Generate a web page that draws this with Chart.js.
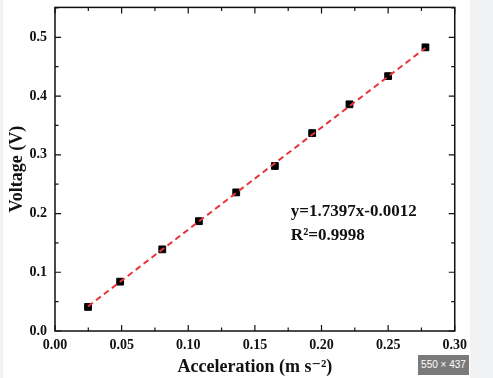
<!DOCTYPE html>
<html lang="en">
<head>
    <meta charset="UTF-8">
    <title>Voltage vs Acceleration</title>
    <style>
        html, body { margin: 0; padding: 0; background: #f1f2f4; }
        #wrap { position: absolute; left: 3px; top: 0; width: 467px; height: 378px; background: #fff; overflow: hidden; }
        #chart { position: absolute; left: 0; top: -9px; }
        #badge {
            position: absolute; left: 418px; top: 355px; width: 51px; height: 20px;
            background: #7a7a7a; color: #fff; font: 10px "Liberation Sans", Arial, sans-serif;
            line-height: 20px; text-align: center; white-space: nowrap; overflow: hidden;
        }
    </style>
    <script src="https://cdn.jsdelivr.net/npm/chart.js"></script>
</head>
<body>
    <div id="wrap"><canvas id="chart" width="470" height="387"></canvas></div>
    <div id="badge">550 × 437</div>

    <script>
        // measured points
        const accel = [0.0248, 0.0489, 0.0805, 0.108, 0.136, 0.165, 0.193, 0.221, 0.250, 0.278];
        const voltage = [0.041, 0.084, 0.139, 0.187, 0.236, 0.281, 0.337, 0.386, 0.434, 0.483];
        // fitted line ends
        const fitX = [0.0248, 0.278];
        const fitY = [0.042, 0.482];
        const xTicks = [0.00, 0.05, 0.10, 0.15, 0.20, 0.25, 0.30];
        const yTicks = [0.0, 0.1, 0.2, 0.3, 0.4, 0.5];
        const fitText = ['y=1.7397x-0.0012', 'R\u00B2=0.9998'];

        const serif = '"Liberation Serif", "DejaVu Serif", serif';

        // inward ticks on all four sides, frame, and fit equation
        const framePlugin = {
            id: 'frame',
            afterDatasetsDraw(chart) {
                const ctx = chart.ctx;
                const a = chart.chartArea;
                const xs = chart.scales.x, ys = chart.scales.y;
                ctx.save();
                ctx.strokeStyle = '#111';
                ctx.lineWidth = 1.5;
                ctx.strokeRect(a.left, a.top, a.right - a.left, a.bottom - a.top);
                ctx.lineWidth = 1.2;
                for (let v = 0; v <= 0.3001; v += 0.025) {
                    const px = xs.getPixelForValue(v);
                    const len = Math.round(v / 0.025) % 2 === 0 ? 6 : 3.5;
                    ctx.beginPath();
                    ctx.moveTo(px, a.bottom); ctx.lineTo(px, a.bottom - len);
                    ctx.moveTo(px, a.top); ctx.lineTo(px, a.top + len);
                    ctx.stroke();
                }
                for (let v = 0; v <= 0.55; v += 0.05) {
                    const py = ys.getPixelForValue(v);
                    const len = Math.round(v / 0.05) % 2 === 0 ? 6 : 3.5;
                    ctx.beginPath();
                    ctx.moveTo(a.left, py); ctx.lineTo(a.left + len, py);
                    ctx.moveTo(a.right, py); ctx.lineTo(a.right - len, py);
                    ctx.stroke();
                }
                ctx.fillStyle = '#111';
                ctx.font = 'bold 17px ' + serif;
                ctx.textBaseline = 'middle';
                const tx = xs.getPixelForValue(0.177);
                ctx.fillText(fitText[0], tx, ys.getPixelForValue(0.203));
                ctx.fillText(fitText[1], tx, ys.getPixelForValue(0.162));
                ctx.restore();
            }
        };

        new Chart(document.getElementById('chart'), {
            type: 'scatter',
            data: {
                datasets: [{
                    type: 'line',
                    data: fitX.map((x, i) => ({ x: x, y: fitY[i] })),
                    borderColor: '#e8343a',
                    borderWidth: 2,
                    borderDash: [6, 4],
                    pointRadius: 0,
                    fill: false,
                    order: 0
                }, {
                    data: accel.map((x, i) => ({ x: x, y: voltage[i] })),
                    pointStyle: 'rect',
                    pointRadius: 4.8,
                    backgroundColor: '#000',
                    borderColor: '#000',
                    borderWidth: 1,
                    order: 1
                }]
            },
            options: {
                responsive: false,
                animation: false,
                devicePixelRatio: 1,
                layout: { padding: 0 },
                plugins: { legend: { display: false }, tooltip: { enabled: false } },
                scales: {
                    x: {
                        type: 'linear', min: 0, max: 0.3,
                        afterBuildTicks: s => { s.ticks = xTicks.map(v => ({ value: v })); },
                        afterFit: s => { s.height = 47; },
                        grid: { display: false, drawTicks: false },
                        border: { display: false },
                        ticks: {
                            padding: 6, color: '#111',
                            font: { family: serif, size: 14, weight: 'bold' },
                            callback: v => v.toFixed(2)
                        },
                        title: {
                            display: true, text: 'Acceleration (m s\u207B\u00B2)', color: '#111',
                            font: { family: serif, size: 18, weight: 'bold' },
                            padding: { top: 0, bottom: 0 }
                        }
                    },
                    y: {
                        type: 'linear', min: 0, max: 0.551,
                        afterBuildTicks: s => { s.ticks = yTicks.map(v => ({ value: v })); },
                        afterFit: s => { s.width = 52; },
                        grid: { display: false, drawTicks: false },
                        border: { display: false },
                        ticks: {
                            padding: 8, color: '#111',
                            font: { family: serif, size: 14, weight: 'bold' },
                            callback: v => v.toFixed(1)
                        },
                        title: {
                            display: true, text: 'Voltage (V)', color: '#111',
                            font: { family: serif, size: 18, weight: 'bold' },
                            padding: { top: 4, bottom: 0 }
                        }
                    }
                }
            },
            plugins: [framePlugin]
        });
    </script>
</body>
</html>
